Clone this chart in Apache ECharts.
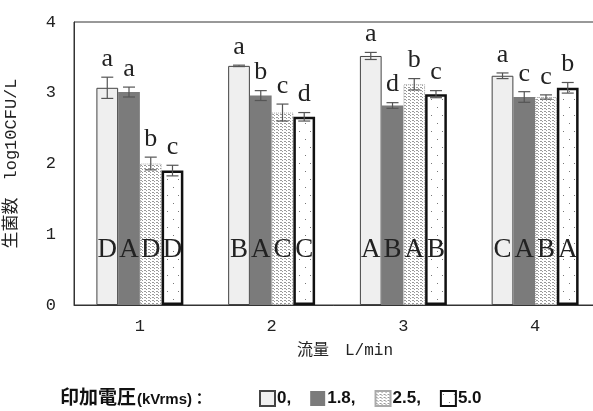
<!DOCTYPE html>
<html lang="ja">
<head>
    <meta charset="UTF-8">
    <title>生菌数</title>
    <script src="https://cdn.jsdelivr.net/npm/echarts@6/dist/echarts.min.js"></script>
    <style>
        html, body { margin: 0; padding: 0; background: #fff; }
        #charts { width: 593px; height: 411px; }
    </style>
</head>
<body>
<div id="charts"></div>
<script>
    // 流量 L/min
    var categories = ['1', '2', '3', '4'];
    // 印加電圧 kVrms
    var seriesNames = ['0', '1.8', '2.5', '5.0'];

    var v0  = [3.07, 3.38, 3.52, 3.24];
    var v18 = [3.01, 2.96, 2.82, 2.94];
    var v25 = [2.00, 2.72, 3.12, 2.94];
    var v50 = [1.90, 2.66, 2.98, 3.07];

    var e0  = [0.15, 0.01, 0.05, 0.04];
    var e18 = [0.07, 0.07, 0.04, 0.075];
    var e25 = [0.09, 0.12, 0.08, 0.03];
    var e50 = [0.075, 0.06, 0.05, 0.075];

    // 小文字: 同一流量内の比較, 大文字: 同一電圧内の比較
    var low0  = ['a', 'a', 'a', 'a'];
    var low18 = ['a', 'b', 'd', 'c'];
    var low25 = ['b', 'c', 'b', 'c'];
    var low50 = ['c', 'd', 'c', 'b'];

    var up0  = ['D', 'B', 'A', 'C'];
    var up18 = ['A', 'A', 'B', 'A'];
    var up25 = ['D', 'C', 'A', 'B'];
    var up50 = ['D', 'C', 'B', 'A'];

    var yTicks = [0, 1, 2, 3, 4];

    var values = [v0, v18, v25, v50];
    var errors = [e0, e18, e25, e50];
    var lows = [low0, low18, low25, low50];
    var ups = [up0, up18, up25, up50];

    var catGap = 0.34;

    function makePattern(w, h, draw) {
        var c = document.createElement('canvas');
        c.width = w;
        c.height = h;
        var ctx = c.getContext('2d');
        ctx.fillStyle = '#fff';
        ctx.fillRect(0, 0, w, h);
        draw(ctx);
        return {image: c, repeat: 'repeat'};
    }

    var densePat = makePattern(4, 3, function (ctx) {
        ctx.fillStyle = '#9a9a9a';
        ctx.fillRect(0, 0, 2, 1);
        ctx.fillRect(2, 1, 1, 1);
    });
    var sparsePat = makePattern(11, 16, function (ctx) {
        ctx.fillStyle = '#777';
        ctx.fillRect(2, 3, 1, 1);
        ctx.fillRect(8, 11, 1, 1);
    });

    var styles = [
        {color: '#efefef', borderColor: '#444', borderWidth: 1},
        {color: '#7b7b7b', borderWidth: 0},
        {color: densePat, borderColor: '#aaa', borderWidth: 1, borderType: 'dotted'},
        {color: sparsePat, borderColor: '#111', borderWidth: 2.5}
    ];

    var serifFont = '"Liberation Serif", "DejaVu Serif", serif';
    var monoFont = '"Liberation Mono", "DejaVu Sans Mono", monospace';

    var series = [];
    for (var s = 0; s < 4; s++) {
        (function (s) {
            series.push({
                name: seriesNames[s],
                type: 'bar',
                barGap: '0%',
                barCategoryGap: (catGap * 100) + '%',
                data: values[s],
                itemStyle: styles[s],
                label: {
                    show: true,
                    position: 'insideBottom',
                    distance: 42,
                    formatter: function (p) { return ups[s][p.dataIndex]; },
                    fontFamily: serifFont,
                    fontSize: 27,
                    color: '#222'
                },
                emphasis: {disabled: true},
                animation: false
            });
        })(s);
    }

    var errData = [];
    for (var s2 = 0; s2 < 4; s2++) {
        for (var c = 0; c < categories.length; c++) {
            errData.push([c, values[s2][c], errors[s2][c], s2, lows[s2][c]]);
        }
    }

    series.push({
        type: 'custom',
        data: errData,
        z: 10,
        animation: false,
        renderItem: function (params, api) {
            var d = errData[params.dataIndex];
            var band = api.size([1, 0])[0];
            var bw = band * (1 - catGap) / 4;
            var x = api.coord([d[0], 0])[0] + (d[3] - 1.5) * bw;
            var yHi = api.coord([d[0], d[1] + d[2]])[1];
            var yLo = api.coord([d[0], d[1] - d[2]])[1];
            var st = {stroke: '#555', lineWidth: 1.2};
            return {
                type: 'group',
                children: [
                    {type: 'line', shape: {x1: x, y1: yHi, x2: x, y2: yLo}, style: st},
                    {type: 'line', shape: {x1: x - 6, y1: yHi, x2: x + 6, y2: yHi}, style: st},
                    {type: 'line', shape: {x1: x - 6, y1: yLo, x2: x + 6, y2: yLo}, style: st},
                    {
                        type: 'text',
                        style: {
                            text: d[4], x: x, y: yHi - 5,
                            align: 'center', verticalAlign: 'bottom',
                            font: '26px ' + serifFont, fill: '#222'
                        }
                    }
                ]
            };
        }
    });

    var myChart = echarts.init(document.getElementById('charts'));

    var option = {
        animation: false,
        grid: {
            left: 74, top: 22, width: 527, height: 283,
            containLabel: false,
            outerBoundsMode: 'none',
            show: true, borderColor: '#333', borderWidth: 1
        },
        xAxis: {
            type: 'category',
            data: categories,
            axisLine: {lineStyle: {color: '#333'}},
            axisTick: {show: false},
            axisLabel: {color: '#222', fontFamily: monoFont, fontSize: 17, margin: 13}
        },
        yAxis: {
            type: 'value',
            min: yTicks[0],
            max: yTicks[yTicks.length - 1],
            interval: 1,
            name: '生菌数　log10CFU/L',
            nameLocation: 'middle',
            nameGap: 54,
            nameRotate: 90,
            nameTextStyle: {color: '#222', fontSize: 17, fontFamily: monoFont + ', "Noto Sans CJK JP"'},
            axisLine: {show: true, lineStyle: {color: '#333'}},
            axisTick: {show: false},
            splitLine: {show: false},
            axisLabel: {color: '#222', fontFamily: monoFont, fontSize: 17, margin: 18}
        },
        legend: {
            data: seriesNames,
            icon: 'rect',
            left: 254,
            top: 385,
            itemWidth: 15,
            itemHeight: 15,
            itemGap: 19,
            selectedMode: false,
            formatter: function (name) {
                return name === '5.0' ? name : name + ',';
            },
            textStyle: {
                color: '#111', fontSize: 17, fontWeight: 'bold',
                fontFamily: '"Liberation Sans", Arial, sans-serif',
                padding: [0, 0, 0, -3]
            }
        },
        graphic: [
            {
                type: 'text',
                left: 297,
                top: 343,
                style: {
                    text: '流量　L/min',
                    font: '16px ' + monoFont + ', "Noto Sans CJK JP"',
                    fill: '#222'
                }
            },
            {
                type: 'text',
                left: 60,
                top: 387,
                style: {
                    text: '印加電圧',
                    font: 'bold 19px "Noto Sans CJK JP"',
                    fill: '#111'
                }
            },
            {
                type: 'text',
                left: 137,
                top: 392,
                style: {
                    text: '(kVrms)：',
                    font: 'bold 15px "Liberation Sans", "Noto Sans CJK JP"',
                    fill: '#111'
                }
            }
        ],
        series: series
    };

    myChart.setOption(option);
</script>
</body>
</html>
